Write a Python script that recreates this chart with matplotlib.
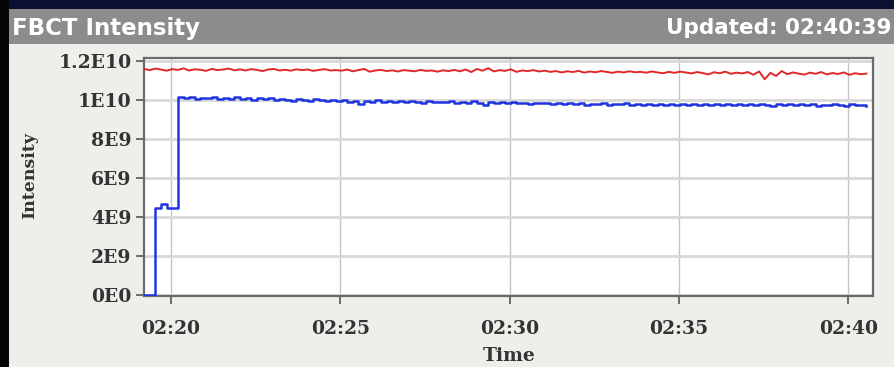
import numpy as np
import matplotlib
matplotlib.use("Agg")
import matplotlib.pyplot as plt
from matplotlib.patches import Rectangle

# Sampling: one reading every 10 s, starting 02:19:12 (minutes after 02:00)
t_start = 19.2
t_step = 1.0 / 6.0

# Beam intensity, units of 1E9 charges
red_vals = [
    11.58, 11.52, 11.60, 11.55, 11.49, 11.57, 11.53, 11.61, 11.50, 11.56, 11.54, 11.48, 11.58, 11.52, 11.55, 11.60, 11.51,
    11.56, 11.50, 11.57, 11.53, 11.47, 11.55, 11.58, 11.50, 11.54, 11.49, 11.56, 11.52, 11.55, 11.48, 11.53, 11.57, 11.50, 11.52,
    11.49, 11.55, 11.46, 11.52, 11.58, 11.44, 11.50, 11.53, 11.47, 11.51, 11.45, 11.52, 11.49, 11.46, 11.53, 11.48, 11.50, 11.44,
    11.51, 11.47, 11.53, 11.46, 11.55, 11.42, 11.58, 11.49, 11.62, 11.45, 11.52, 11.48, 11.56, 11.43, 11.50, 11.47, 11.52, 11.45,
    11.49, 11.43, 11.47, 11.40, 11.46, 11.42, 11.48, 11.39, 11.45, 11.41, 11.47, 11.43, 11.38, 11.44, 11.40, 11.46, 11.41, 11.43,
    11.39, 11.45, 11.40, 11.36, 11.43, 11.38, 11.44, 11.40, 11.35, 11.42, 11.37, 11.30, 11.41, 11.36, 11.44, 11.33, 11.39, 11.35,
    11.42, 11.28, 11.45, 11.05, 11.38, 11.22, 11.47, 11.31, 11.40, 11.34, 11.29, 11.39, 11.33, 11.42, 11.30, 11.37, 11.32, 11.40,
    11.28, 11.36, 11.31, 11.34,
]

blue_vals = [
    0.0, 0.0, 4.48, 4.65, 4.47, 4.46,
    10.12, 10.08, 10.15, 10.05, 10.11, 10.07, 10.13, 10.04, 10.10, 10.06, 10.12,
    10.03, 10.09, 10.01, 10.07, 10.02, 10.08, 9.98, 10.05, 10.00, 9.96, 10.04, 9.99, 9.94, 10.02, 9.97, 9.93, 10.00, 9.95,
    9.98, 9.91, 9.96, 9.78, 9.94, 9.90, 9.97, 9.88, 9.93, 9.89, 9.95, 9.87, 9.92, 9.90, 9.86, 9.93, 9.88, 9.91,
    9.87, 9.92, 9.85, 9.90, 9.83, 9.95, 9.86, 9.74, 9.89, 9.84, 9.88, 9.82, 9.87, 9.83, 9.86, 9.80, 9.85, 9.81,
    9.84, 9.79, 9.83, 9.76, 9.82, 9.78, 9.81, 9.75, 9.80, 9.77, 9.83, 9.74, 9.79, 9.76, 9.81, 9.73, 9.78, 9.75,
    9.79, 9.74, 9.78, 9.72, 9.77, 9.75, 9.80, 9.73, 9.76, 9.71, 9.78, 9.74, 9.77, 9.72, 9.76, 9.73, 9.79, 9.74,
    9.77, 9.72, 9.80, 9.75, 9.70, 9.78, 9.73, 9.76, 9.71, 9.79, 9.74, 9.77, 9.70, 9.75, 9.72, 9.78, 9.73, 9.69,
    9.76, 9.71, 9.74, 9.70,
]

y_ticks = [0, 2e9, 4e9, 6e9, 8e9, 10e9, 12e9]
y_labels = ["0E0", "2E9", "4E9", "6E9", "8E9", "1E10", "1.2E10"]
x_ticks = [20, 25, 30, 35, 40]
x_labels = ["02:20", "02:25", "02:30", "02:35", "02:40"]

title = "FBCT Intensity"
updated = "Updated: 02:40:39"

times = t_start + t_step * np.arange(len(red_vals))
red = np.array(red_vals) * 1e9
blue = np.array(blue_vals) * 1e9

W, H = 894, 367
fig = plt.figure(figsize=(W / 100, H / 100), dpi=100)
fig.patch.set_facecolor("#eeeeea")

def px_rect(x0, y0, x1, y1, color):
    fig.add_artist(Rectangle((x0 / W, 1 - y1 / H), (x1 - x0) / W, (y1 - y0) / H,
                             transform=fig.transFigure, facecolor=color,
                             edgecolor="none", zorder=0))

# window chrome: dark top band, black left border, grey title bar
px_rect(0, 0, W, 9, "#0c1030")
px_rect(0, 0, 9, H, "#050505")
px_rect(9, 9, W, 44, "#8c8c8c")

fig.text(12 / W, 1 - 28 / H, title, color="white", fontsize=16.5,
         fontweight="bold", va="center", ha="left")
fig.text(892 / W, 1 - 28 / H, updated, color="white", fontsize=15.5,
         fontweight="bold", va="center", ha="right")

ax = fig.add_axes([144 / W, 1 - 296 / H, (873 - 144) / W, (296 - 58) / H])
ax.set_facecolor("white")

ax.plot(times, red, color="#e02828", lw=1.4, zorder=3)
ax.plot(times, blue, color="#1f35e0", lw=1.8, drawstyle="steps-post", zorder=4)

ax.set_xlim(19.2, 40.73)
ax.set_ylim(-0.05e9, 12.14e9)

ax.set_yticks(y_ticks)
ax.set_yticklabels(y_labels)
ax.set_xticks(x_ticks)
ax.set_xticklabels(x_labels)

for lab in ax.get_xticklabels() + ax.get_yticklabels():
    lab.set_family("DejaVu Serif")
    lab.set_fontweight("bold")
    lab.set_fontsize(13.5)
    lab.set_color("#333333")

ax.tick_params(axis="both", direction="out", length=6, width=1.2,
               color="#555555")
ax.tick_params(axis="x", pad=11)
ax.tick_params(axis="y", pad=3)

ax.yaxis.grid(True, color="#d8d8d8", lw=2.0, zorder=0)
ax.xaxis.grid(True, color="#c4c4c4", lw=1.0, zorder=0)
ax.set_axisbelow(True)

for s in ax.spines.values():
    s.set_color("#6a6a6a")
    s.set_linewidth(1.6)

fig.text(30 / W, 1 - 175 / H, "Intensity", rotation=90, fontsize=12.5,
         fontweight="bold", color="#333333", ha="center", va="center",
         family="DejaVu Serif")
fig.text(509 / W, 1 - 356 / H, "Time", fontsize=13.5, fontweight="bold",
         color="#333333", ha="center", va="center", family="DejaVu Serif")

fig.savefig("out.png", dpi=100, facecolor=fig.get_facecolor())
